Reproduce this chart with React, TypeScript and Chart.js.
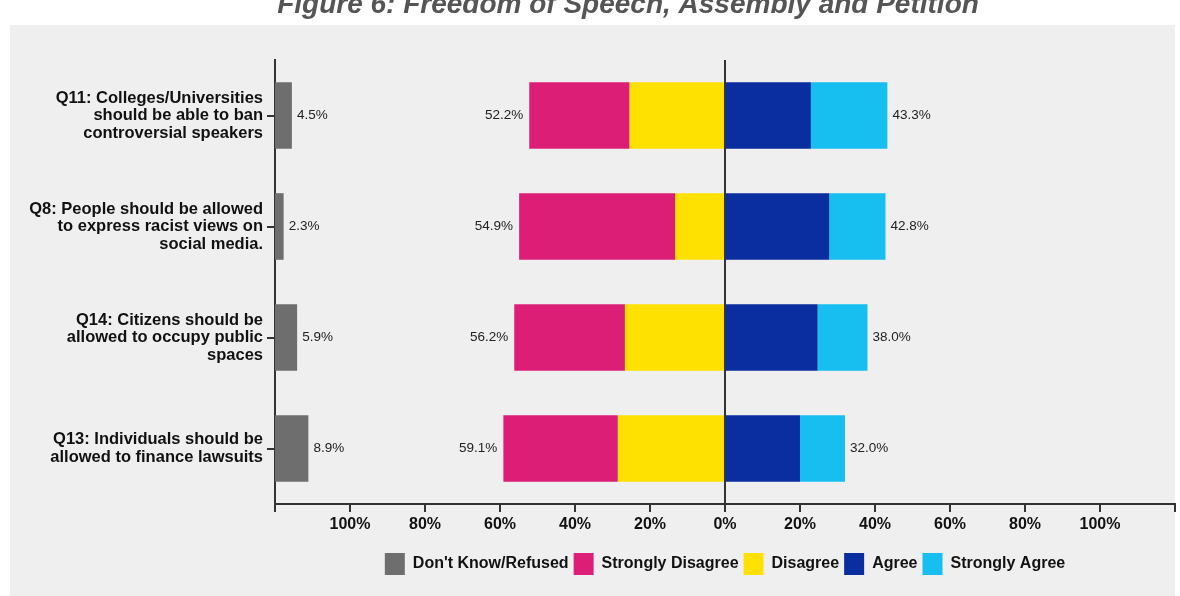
import { useEffect, useRef } from 'react';
import { Chart, registerables } from 'chart.js';

Chart.register(...registerables);

// ---------- data ----------
const categories: string[][] = [
  ['Q11: Colleges/Universities', 'should be able to ban', 'controversial speakers'],
  ['Q8: People should be allowed', 'to express racist views on', 'social media.'],
  ['Q14: Citizens should be', 'allowed to occupy public', 'spaces'],
  ['Q13: Individuals should be', 'allowed to finance lawsuits'],
];
const dontKnow = [4.5, 2.3, 5.9, 8.9];
const stronglyDisagree = [26.7, 41.6, 29.5, 30.5];
const disagree = [25.5, 13.3, 26.7, 28.6];
const agree = [22.9, 27.8, 24.7, 20.0];
const stronglyAgree = [20.4, 15.0, 13.3, 12.0];
const disagreeTotals = [52.2, 54.9, 56.2, 59.1];
const agreeTotals = [43.3, 42.8, 38.0, 32.0];
const seriesNames = ["Don't Know/Refused", 'Strongly Disagree', 'Disagree', 'Agree', 'Strongly Agree'];
const seriesColors = ['#6e6e6e', '#dd1e77', '#ffe100', '#0a2d9f', '#16bff0'];
const axisMin = -120;
const axisMax = 120;
const axisStep = 20;
const titleText = 'Figure 6: Freedom of Speech, Assembly and Petition';

const FONT = '"Liberation Sans", Arial, Helvetica, sans-serif';
const TOP_SHIFT = 16;

export default function App() {
  const ref = useRef<HTMLCanvasElement | null>(null);

  useEffect(() => {
    if (!ref.current) return;
    document.body.style.overflow = 'hidden';

    const panelPlugin = {
      id: 'panel',
      beforeDraw(chart: any) {
        const { ctx, width, height } = chart;
        ctx.save();
        ctx.fillStyle = '#ffffff';
        ctx.fillRect(0, 0, width, height);
        ctx.fillStyle = '#efefef';
        ctx.fillRect(10, 25 + TOP_SHIFT, 1165, height - 25 - TOP_SHIFT);
        ctx.font = `italic bold 28px ${FONT}`;
        ctx.fillStyle = '#555555';
        ctx.textAlign = 'center';
        ctx.textBaseline = 'alphabetic';
        ctx.fillText(titleText, 628, 13 + TOP_SHIFT);
        ctx.restore();
      },
    };

    const labelPlugin = {
      id: 'valueLabels',
      afterDatasetsDraw(chart: any) {
        const { ctx, scales } = chart;
        const x = scales.x;
        const y = scales.y;
        ctx.save();
        ctx.font = `13.5px ${FONT}`;
        ctx.fillStyle = '#222';
        ctx.textBaseline = 'middle';
        categories.forEach((_, i) => {
          const cy = y.getPixelForValue(i);
          ctx.textAlign = 'left';
          ctx.fillText(dontKnow[i].toFixed(1) + '%', x.getPixelForValue(axisMin + dontKnow[i]) + 5, cy);
          ctx.textAlign = 'right';
          ctx.fillText(disagreeTotals[i].toFixed(1) + '%', x.getPixelForValue(-(stronglyDisagree[i] + disagree[i])) - 6, cy);
          ctx.textAlign = 'left';
          ctx.fillText(agreeTotals[i].toFixed(1) + '%', x.getPixelForValue(agree[i] + stronglyAgree[i]) + 5, cy);
        });
        ctx.restore();
      },
    };

    const ranges = [
      dontKnow.map((v) => [axisMin, axisMin + v]),
      stronglyDisagree.map((v, i) => [-(v + disagree[i]), -disagree[i]]),
      disagree.map((v) => [-v, 0]),
      agree.map((v) => [0, v]),
      stronglyAgree.map((v, i) => [agree[i], agree[i] + v]),
    ];

    const chart = new Chart(ref.current, {
      type: 'bar',
      data: {
        labels: categories,
        datasets: seriesNames.map((name, k) => ({
          label: name,
          data: ranges[k] as any,
          backgroundColor: seriesColors[k],
          borderWidth: 0,
          borderSkipped: false,
          grouped: false,
          barPercentage: 0.6,
          categoryPercentage: 1,
        })),
      },
      options: {
        indexAxis: 'y',
        responsive: false,
        animation: false,
        layout: { padding: { top: 60 + TOP_SHIFT, right: 5, left: 0, bottom: 11 } },
        scales: {
          x: {
            type: 'linear',
            min: axisMin,
            max: axisMax,
            z: 1,
            afterFit: (s: any) => {
              s.height = 44;
            },
            ticks: {
              stepSize: axisStep,
              autoSkip: false,
              maxRotation: 0,
              padding: 3,
              color: '#111',
              font: { family: FONT, size: 16, weight: 'bold' },
              callback: (v: any) => (Math.abs(v) > 100 ? '' : Math.abs(v) + '%'),
            },
            grid: {
              drawOnChartArea: true,
              color: (c: any) => (c.tick && c.tick.value === 0 ? '#333' : 'rgba(0,0,0,0)'),
              tickColor: '#333',
              lineWidth: 2,
              tickWidth: 2,
              tickLength: 8,
            },
            border: { display: true, color: '#333', width: 2 },
          },
          y: {
            type: 'category',
            afterFit: (s: any) => {
              s.width = 275;
            },
            ticks: {
              autoSkip: false,
              padding: 4,
              color: '#111',
              font: { family: FONT, size: 16.5, weight: 'bold', lineHeight: 1.06 },
            },
            grid: {
              offset: false,
              drawOnChartArea: false,
              drawTicks: true,
              tickLength: 8,
              color: '#333',
              lineWidth: 2,
            },
            border: { display: true, color: '#333', width: 2 },
          },
        },
        plugins: {
          legend: {
            position: 'bottom',
            fullSize: false,
            labels: {
              boxWidth: 20,
              boxHeight: 22,
              padding: 5,
              color: '#111',
              font: { family: FONT, size: 16, weight: 'bold' },
            },
          },
          title: { display: false },
          tooltip: { enabled: false },
        },
      },
      plugins: [panelPlugin, labelPlugin],
    } as any);

    return () => chart.destroy();
  }, []);

  return (
    <canvas
      ref={ref}
      width={1180}
      height={596 + TOP_SHIFT}
      style={{ position: 'absolute', left: 0, top: -TOP_SHIFT, width: 1180, height: 596 + TOP_SHIFT, display: 'block' }}
    />
  );
}
